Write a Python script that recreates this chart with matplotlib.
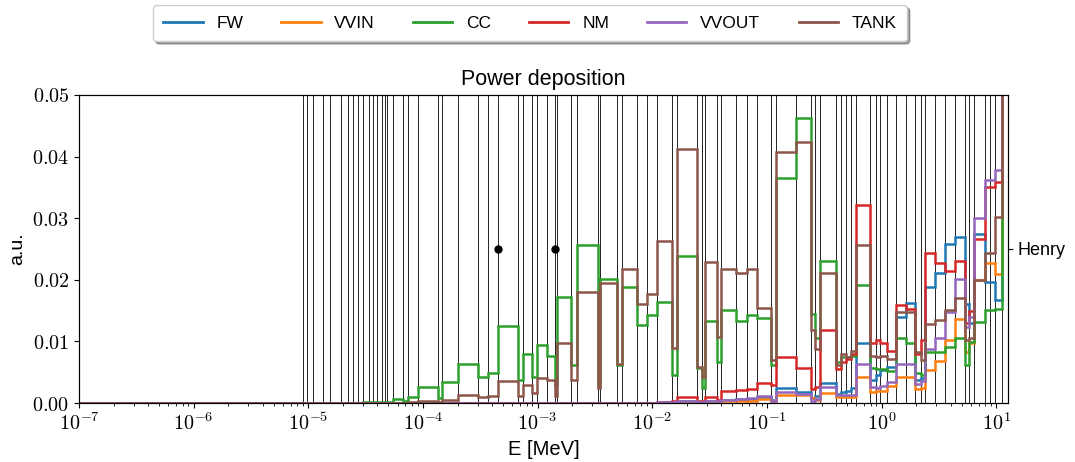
import numpy as np
import matplotlib
matplotlib.use("Agg")
import matplotlib.pyplot as plt
from matplotlib.ticker import FuncFormatter, NullFormatter, LogLocator
from matplotlib.lines import Line2D

plt.rcParams['font.family'] = ['Liberation Sans', 'DejaVu Sans']
plt.rcParams['mathtext.fontset'] = 'cm'

# group boundaries [MeV]
edges = [1e-7, 9.03e-6, 9.78e-6, 1.10e-5, 1.35e-5, 1.56e-5, 1.91e-5, 2.23e-5, 2.46e-5, 2.72e-5,
         3.01e-5, 3.38e-5, 3.68e-5, 3.99e-5, 4.36e-5, 4.65e-5, 4.87e-5, 5.50e-5, 6.72e-5, 7.43e-5,
         9.08e-5, 1.34e-4, 1.47e-4, 2.00e-4, 2.99e-4, 3.66e-4, 4.47e-4, 6.68e-4, 7.38e-4, 8.85e-4,
         9.80e-4, 1.196e-3, 1.41e-3, 1.48e-3, 1.97e-3, 2.21e-3, 3.37e-3, 3.48e-3, 4.93e-3, 5.45e-3,
         7.28e-3, 8.90e-3, 1.088e-2, 1.47e-2, 1.63e-2, 2.43e-2, 2.69e-2, 2.87e-2, 3.63e-2, 4.01e-2,
         5.42e-2, 6.63e-2, 8.10e-2, 0.1094, 0.1210, 0.1783, 0.2443, 0.2611, 0.2927, 0.398,
         0.440, 0.486, 0.535, 0.594, 0.788, 0.888, 0.962, 1.115, 1.346, 1.622,
         1.944, 2.19, 2.38, 2.945, 3.55, 4.34, 5.30, 5.75, 6.35, 7.92,
         8.76, 9.82, 11.30, 12.65]

zeros42 = [0.0] * 42

fw = zeros42 + [0.0001, 0.0001, 0.0003, 0.0002, 0.0002, 0.0004, 0.0003, 0.0005,
                0.0006, 0.0007, 0.0010, 0.0005, 0.0024, 0.0018, 0.0008, 0.0012, 0.0032, 0.0014,
                0.0018, 0.0020, 0.0025, 0.0097, 0.0037, 0.0045, 0.0053, 0.0058, 0.0140, 0.0163,
                0.0037, 0.0041, 0.0188, 0.0211, 0.0258, 0.0270, 0.0161, 0.0130, 0.0274, 0.0197,
                0.0197, 0.0167, 0.20]

vvin = zeros42 + [0.0001, 0.0001, 0.0002, 0.0001, 0.0001, 0.0002, 0.0002, 0.0003,
                  0.0003, 0.0004, 0.0006, 0.0003, 0.0013, 0.0013, 0.0008, 0.0005, 0.0016, 0.0010,
                  0.0010, 0.0010, 0.0010, 0.0043, 0.0018, 0.0020, 0.0020, 0.0027, 0.0042, 0.0042,
                  0.0023, 0.0025, 0.0054, 0.0068, 0.0102, 0.0136, 0.0083, 0.0097, 0.0199, 0.0228,
                  0.0228, 0.0209, 0.20]

cc = [0, 0, 0, 0, 0, 0, 0, 0, 0, 0,
      0.0001, 0.0001, 0.0002, 0.0002, 0.0001, 0.0001, 0.0002, 0.0006, 0.0003, 0.0009,
      0.0026, 0.0008, 0.0034, 0.0064, 0.0042, 0.0049, 0.0125, 0.0037, 0.0080, 0.0042,
      0.0094, 0.0076, 0.0030, 0.0172, 0.0061, 0.0257, 0.0028, 0.0202, 0.0061, 0.0188,
      0.0126, 0.0143, 0.0164, 0.0045, 0.0239, 0.0057, 0.0025, 0.0133, 0.0067, 0.0151,
      0.0133, 0.0143, 0.0138, 0.0061, 0.0365, 0.0462, 0.0144, 0.0105, 0.0231, 0.0067,
      0.0075, 0.0075, 0.0077, 0.0191, 0.0057, 0.0056, 0.0055, 0.0052, 0.0105, 0.0098,
      0.0048, 0.0045, 0.0083, 0.0083, 0.0091, 0.0105, 0.0061, 0.0099, 0.0131, 0.0151,
      0.0151, 0.0152, 0.20]

nm = zeros42 + [0.0002, 0.0003, 0.0009, 0.0003, 0.0003, 0.0010, 0.0005, 0.0020,
                0.0021, 0.0023, 0.0033, 0.0030, 0.0075, 0.0057, 0.0023, 0.0026, 0.0119, 0.0055,
                0.0067, 0.0071, 0.0080, 0.0321, 0.0097, 0.0102, 0.0097, 0.0085, 0.0159, 0.0153,
                0.0080, 0.0103, 0.0244, 0.0227, 0.0214, 0.0231, 0.0130, 0.0150, 0.0267, 0.0351,
                0.0351, 0.0358, 0.20]

vvout = zeros42 + [0.0002, 0.0002, 0.0003, 0.0002, 0.0002, 0.0004, 0.0003, 0.0005,
                   0.0006, 0.0008, 0.0011, 0.0004, 0.0018, 0.0015, 0.0004, 0.0006, 0.0026, 0.0013,
                   0.0013, 0.0013, 0.0013, 0.0064, 0.0026, 0.0025, 0.0027, 0.0034, 0.0063, 0.0063,
                   0.0031, 0.0035, 0.0087, 0.0106, 0.0148, 0.0201, 0.0123, 0.0140, 0.0301, 0.0362,
                   0.0362, 0.0378, 0.20]

tank = [0, 0, 0, 0, 0, 0, 0, 0, 0, 0,
        0, 0, 0, 0, 0, 0, 0, 0, 0, 0.0001,
        0.0003, 0.0002, 0.0005, 0.0013, 0.0009, 0.0012, 0.0035, 0.0011, 0.0029, 0.0016,
        0.0041, 0.0037, 0.0012, 0.0097, 0.0038, 0.0180, 0.0024, 0.0195, 0.0064, 0.0217,
        0.0161, 0.0177, 0.0263, 0.0090, 0.0412, 0.0058, 0.0042, 0.0229, 0.0107, 0.0217,
        0.0211, 0.0217, 0.0155, 0.0069, 0.0407, 0.0424, 0.0118, 0.0088, 0.0211, 0.0061,
        0.0080, 0.0075, 0.0085, 0.0257, 0.0077, 0.0075, 0.0077, 0.0071, 0.0148, 0.0148,
        0.0083, 0.0069, 0.0129, 0.0134, 0.0151, 0.0171, 0.0102, 0.0105, 0.0200, 0.0244,
        0.0244, 0.0302, 0.20]

labels = ['FW', 'VVIN', 'CC', 'NM', 'VVOUT', 'TANK']
series = [fw, vvin, cc, nm, vvout, tank]

# markers at the Henry level
henry_E = [4.47e-4, 1.41e-3]
henry_y = 0.025

fig = plt.figure(figsize=(10.75, 4.62), dpi=100)
ax = fig.add_axes([0.0735, 0.1277, 0.8642, 0.6667])

for e in edges[1:]:
    ax.axvline(e, color='k', lw=0.6, zorder=1)

for vals, lab in zip(series, labels):
    ax.stairs(vals, edges, label=lab, lw=1.8, zorder=2, baseline=None)

ax.plot(henry_E, [henry_y] * len(henry_E), 'o', color='k', ms=5, zorder=3)

ax.set_xscale('log')
ax.set_xlim(edges[0], edges[-1])
ax.set_ylim(0, 0.05)
ax.xaxis.set_major_locator(LogLocator(base=10, numticks=20))
ax.xaxis.set_major_formatter(FuncFormatter(lambda v, p: r'$10^{%d}$' % round(np.log10(v))))
ax.xaxis.set_minor_formatter(NullFormatter())
ax.set_yticks([0, 0.01, 0.02, 0.03, 0.04, 0.05])
ax.yaxis.set_major_formatter(FuncFormatter(lambda v, p: r'$%.2f$' % v))
ax.tick_params(labelsize=14.5)

ax.set_xlabel('E [MeV]', fontsize=14.5)
ax.set_ylabel('a.u.', fontsize=14)
ax.set_title('Power deposition', fontsize=15.5, pad=7)

ax2 = ax.twinx()
ax2.set_ylim(ax.get_ylim())
ax2.set_yticks([henry_y])
ax2.set_yticklabels(['Henry'], fontsize=13)

handles, labs = ax.get_legend_handles_labels()
handles = [Line2D([], [], color=h.get_edgecolor(), lw=2) for h in handles]
fig.legend(handles, labs, loc='center', bbox_to_anchor=(0.493, 0.95), ncol=6,
           fontsize=12.5, shadow=True, fancybox=True, handlelength=2.25,
           handletextpad=0.8, columnspacing=2.2, borderpad=0.6)

fig.savefig('out.png', dpi=100)
